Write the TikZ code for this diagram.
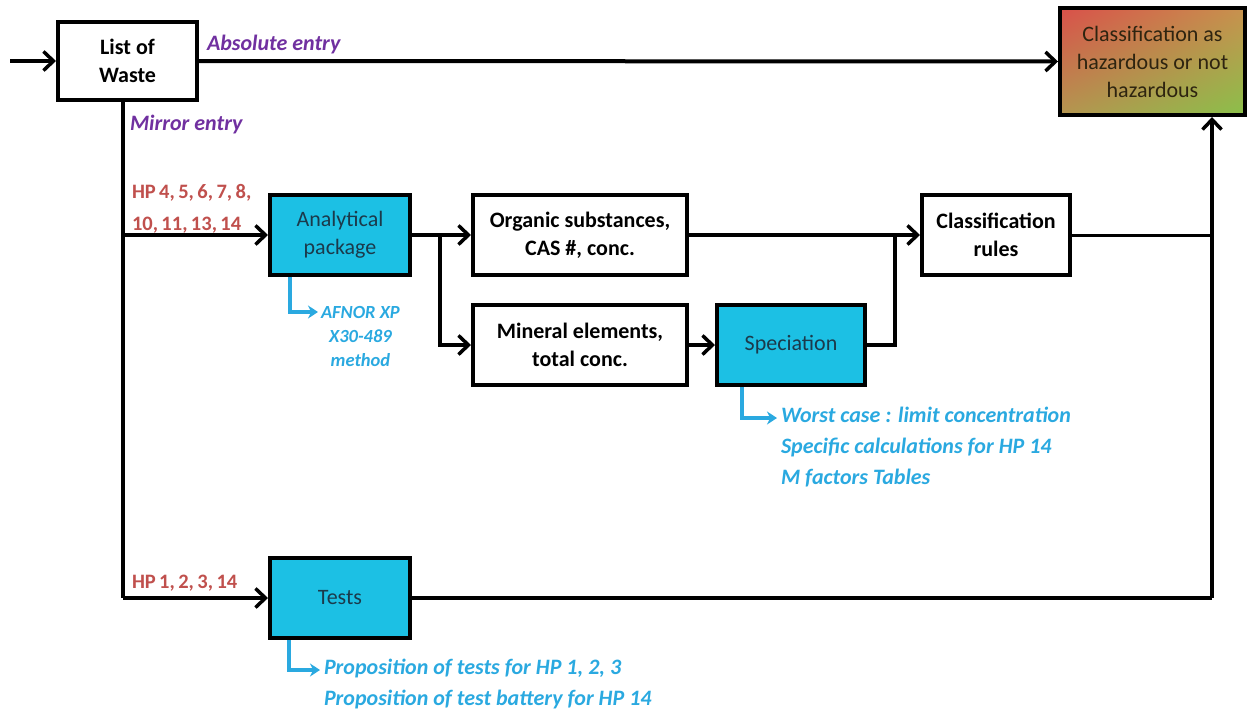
\documentclass[tikz,border=0pt]{standalone}
\usepackage{fontspec}
\setmainfont{Carlito}
\usetikzlibrary{arrows.meta,positioning,shadings}
\definecolor{boxcyan}{HTML}{1CC0E4}
\definecolor{boxtext}{HTML}{1B3A4B}
\definecolor{notecyan}{HTML}{2AA9E0}
\definecolor{entrypurple}{HTML}{7030A0}
\definecolor{hpred}{HTML}{C0504D}
\definecolor{finaltext}{HTML}{2E2410}
\definecolor{finalUL}{RGB}{217,80,74}
\definecolor{finalUR}{RGB}{200,146,78}
\definecolor{finalLL}{RGB}{180,150,80}
\definecolor{finalLR}{RGB}{138,192,74}

\begin{document}
\begin{tikzpicture}[x=1pt,y=-1pt,
  line width=4pt,
  >={Straight Barb[length=10pt,width=19pt,line width=3.5pt]},
  plainbox/.style={draw,line width=4pt,align=center,font=\fontsize{22}{28}\selectfont\bfseries,inner sep=0pt},
  cyanbox/.style={draw,line width=4pt,fill=boxcyan,align=center,text=boxtext,font=\fontsize{22}{28}\selectfont,inner sep=0pt},
  entrylabel/.style={text=entrypurple,font=\fontsize{22}{24}\selectfont\bfseries\itshape,inner sep=0pt},
  hplabel/.style={text=hpred,font=\fontsize{20.5}{32}\selectfont\bfseries,align=left,inner sep=0pt},
  notetext/.style={text=notecyan,font=\fontsize{22}{31}\selectfont\bfseries\itshape,align=left,inner sep=0pt},
  noteline/.style={draw=notecyan,line width=4pt,-{Stealth[length=10pt,width=13pt]}}]
\useasboundingbox (0,0) rectangle (1249,715);

% boxes
\node[plainbox,minimum width=139pt,minimum height=78pt] (list) at (127.5,61) {List of\\Waste};
\node[draw,line width=4pt,minimum width=185pt,minimum height=107pt,align=center,
  upper left=finalUL,upper right=finalUR,lower left=finalLL,lower right=finalLR,
  text=finaltext,font=\fontsize{22}{28}\selectfont,inner sep=0pt] (final) at (1152.5,61.5)
  {Classification as\\hazardous or not\\hazardous};
\node[cyanbox,minimum width=140pt,minimum height=80pt] (anapack) at (340,235) {Analytical\\package};
\node[plainbox,minimum width=214pt,minimum height=80pt] (organic) at (580,235) {Organic substances,\\CAS \#, conc.};
\node[plainbox,minimum width=214pt,minimum height=80pt] (mineral) at (580,345) {Mineral elements,\\total conc.};
\node[cyanbox,minimum width=148pt,minimum height=80pt] (speciation) at (791,345) {Speciation};
\node[plainbox,minimum width=148pt,minimum height=80pt] (rules) at (996,235) {Classification\\rules};
\node[cyanbox,minimum width=140pt,minimum height=80pt] (tests) at (340,598) {Tests};

% labels
\node[entrylabel,anchor=west] (abslabel) at (205,45) {Absolute entry};
\node[entrylabel,anchor=west] (mirlabel) at (128,125) {Mirror entry};
\node[hplabel,anchor=west] (hpana) at (130,209) {HP\,4,\,5,\,6,\,7,\,8,\\10,\,11,\,13,\,14};
\node[hplabel,anchor=west] (hptests) at (130,583) {HP\,1,\,2,\,3,\,14};

% junction points
\coordinate (start) at (10,61);
\coordinate (m1) at (123,235);
\coordinate (m2) at (123,598);
\coordinate (split) at (440,235);
\coordinate (join) at (895,235);
\coordinate (up) at (1212,598);

\draw[->] (start) -- (list.west);
\draw[->] (list.east) -- (final.west);
\draw (list.south -| m1) -- (m2);
\draw[->] (m1) -- (anapack.west);
\draw[->] (m2) -- (tests.west);
\draw (anapack.east) -- (split);
\draw[->] (split) -- (organic.west);
\draw[->] (split) |- (mineral.west);
\draw[->] (mineral.east) -- (speciation.west);
\draw[->] (organic.east) -- (rules.west);
\draw (speciation.east) -| (join);
\draw[line width=3pt] (rules.east) -- (rules.east -| up);
\draw (tests.east) -- (up);
\draw[->] (up) -- (up |- final.south);

% notes
\coordinate (afnorend) at (318,312);
\coordinate (specend) at (777,418);
\coordinate (testsend) at (320,670);
\node[notetext,anchor=west,align=center,font=\fontsize{18.5}{24}\selectfont\bfseries\itshape] (afnor) at (319,336) {AFNOR XP\\X30-489\\method};
\node[notetext,anchor=north west] (specnote) at (779,405) {Worst case : limit concentration\\Specific calculations for HP 14\\M factors Tables};
\node[notetext,anchor=north west] (testnote) at (322,657) {Proposition of tests for HP 1, 2, 3\\Proposition of test battery for HP 14};
\draw[noteline] (anapack.south -| 290,0) |- (afnorend);
\draw[noteline] (speciation.south -| 742,0) |- (specend);
\draw[noteline] (tests.south -| 289,0) |- (testsend);

\end{tikzpicture}
\end{document}
